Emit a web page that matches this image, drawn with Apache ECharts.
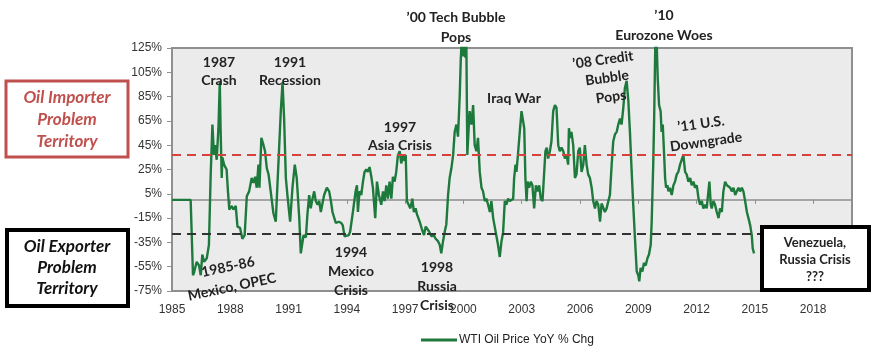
<!DOCTYPE html>
<html>
<head>
<meta charset="utf-8">
<script src="https://cdn.jsdelivr.net/npm/echarts@6/dist/echarts.min.js"></script>
<style>
html,body{margin:0;padding:0;background:#fff;}
#chart{width:880px;height:348px;}
</style>
</head>
<body>
<div id="chart"></div>
<script>
// Time (decimal year) and WTI oil price year-over-year % change
const years = [
1985.00,1985.96,1986.08,1986.13,1986.27,1986.39,1986.48,1986.56,1986.65,1986.79,1986.90,1986.99,
1987.08,1987.16,1987.22,1987.30,1987.39,1987.46,1987.50,1987.56,1987.59,1987.68,1987.81,1987.88,1987.95,
1988.07,1988.16,1988.28,1988.37,1988.50,1988.62,1988.74,1988.85,1988.97,
1989.10,1989.19,1989.28,1989.36,1989.45,1989.50,1989.60,1989.71,1989.79,1989.88,1989.97,
1990.08,1990.22,1990.34,1990.43,1990.52,1990.60,1990.69,1990.77,1990.86,1990.94,
1991.08,1991.20,1991.32,1991.42,1991.55,1991.63,1991.77,1991.89,1991.97,
1992.06,1992.14,1992.23,1992.32,1992.40,1992.49,1992.58,1992.66,1992.83,1992.97,
1993.09,1993.18,1993.26,1993.43,1993.59,1993.71,1993.79,1993.88,1993.97,
1994.10,1994.17,1994.31,1994.45,1994.52,1994.57,1994.65,1994.74,1994.83,1994.91,
1995.00,1995.08,1995.17,1995.26,1995.34,1995.46,1995.55,1995.65,1995.77,1995.86,1995.94,
1996.03,1996.11,1996.20,1996.29,1996.37,1996.46,1996.54,1996.63,1996.72,1996.80,1996.89,1996.97,
1997.03,1997.09,1997.18,1997.27,1997.37,1997.45,1997.54,1997.61,1997.75,1997.88,1997.97,
1998.06,1998.14,1998.23,1998.35,1998.47,1998.57,1998.69,1998.78,1998.86,1998.95,
1999.04,1999.12,1999.21,1999.29,1999.38,1999.47,1999.55,1999.64,1999.72,1999.81,1999.86,1999.91,1999.98,
2000.03,2000.10,2000.15,2000.20,2000.27,2000.32,2000.41,2000.50,2000.58,2000.67,2000.75,2000.84,2000.93,
2001.01,2001.10,2001.18,2001.27,2001.36,2001.44,2001.53,2001.61,2001.70,2001.78,2001.87,2001.96,
2002.04,2002.13,2002.21,2002.30,2002.39,2002.47,2002.56,2002.61,2002.68,2002.73,2002.82,2002.90,2002.99,
2003.07,2003.13,2003.19,2003.25,2003.30,2003.38,2003.47,2003.55,2003.64,2003.73,2003.81,2003.90,2003.98,
2004.07,2004.16,2004.22,2004.29,2004.36,2004.45,2004.53,2004.62,2004.71,2004.79,2004.88,2004.96,
2005.05,2005.14,2005.22,2005.31,2005.39,2005.43,2005.50,2005.56,2005.65,2005.74,2005.82,2005.91,2005.99,
2006.08,2006.17,2006.25,2006.34,2006.42,2006.51,2006.60,2006.68,2006.77,2006.85,2006.94,
2007.03,2007.11,2007.20,2007.28,2007.37,2007.46,2007.54,2007.63,2007.71,2007.80,2007.89,2007.97,
2008.06,2008.14,2008.23,2008.31,2008.40,2008.49,2008.57,2008.66,2008.74,2008.83,2008.92,
2009.00,2009.05,2009.12,2009.21,2009.29,2009.38,2009.47,2009.55,2009.64,2009.69,2009.77,2009.82,2009.88,2009.95,
2010.00,2010.07,2010.15,2010.20,2010.26,2010.33,2010.38,2010.43,2010.50,2010.55,2010.63,2010.72,2010.81,2010.89,2010.98,
2011.06,2011.15,2011.24,2011.32,2011.41,2011.49,2011.58,2011.67,2011.75,2011.84,2011.92,
2012.01,2012.10,2012.18,2012.27,2012.35,2012.44,2012.52,2012.61,2012.66,2012.73,2012.78,2012.87,2012.95,
2013.04,2013.13,2013.21,2013.30,2013.38,2013.47,2013.56,2013.64,2013.73,2013.81,2013.90,2013.99,
2014.07,2014.16,2014.24,2014.33,2014.41,2014.50,2014.59,2014.67,2014.76,2014.84,2014.89,2014.96
];
const wtiYoY = [
0,0,-62,-60,-51,-54,-62,-45,-51,-48,-37,20,
62,37,45,33,59,97,59,18,35,29,25,7,-8,
-5,-8,-5,-22,-23,-32,-29,3,7,
18,14,19,10,29,10,51,45,40,26,21,
7,-11,-18,-18,45,73,97,67,18,4,
-18,10,29,18,-15,-44,-29,-31,-12,
4,-7,1,7,-1,-4,-1,-10,4,10,
7,-1,-10,-19,-18,-19,-21,-30,-29,
-29,-26,-10,7,12,-10,7,4,15,23,
25,23,27,19,10,-15,15,4,-4,7,-1,
12,1,15,1,19,15,23,37,40,30,37,32,
37,-1,-4,-7,1,-10,-7,-12,-18,-25,-29,
-22,-21,-26,-30,-29,-32,-34,-37,-44,-34,
-26,-20,4,18,26,37,56,62,52,86,114,132,118,
136,117,130,37,59,73,62,78,45,40,51,23,10,
7,-1,1,-4,-10,-1,-15,-22,-30,-37,-47,-34,
-27,-1,-4,1,-1,0,1,18,29,23,40,56,73,
73,59,18,-1,15,10,15,12,-7,12,7,12,1,
-1,-1,40,43,34,40,48,73,78,76,45,40,
43,40,34,37,29,59,51,56,45,18,21,40,43,
23,29,45,29,21,18,10,-1,-7,-1,-4,
-18,-3,-4,-10,-7,-1,4,29,48,54,56,62,
67,62,76,92,98,81,56,23,-4,-32,-59,
-62,-67,-56,-59,-52,-54,-48,-45,-37,-18,30,70,132,128,
100,78,73,56,62,37,18,10,12,7,10,4,12,15,21,
23,29,29,37,23,21,15,18,12,15,10,
12,1,-4,-1,-7,-4,-7,7,15,-4,-7,-1,-4,
-10,-15,-7,-10,7,15,12,12,10,7,10,4,
7,10,7,10,7,-1,-10,-15,-21,-29,-40,-44
];
const seriesName = 'WTI Oil Price YoY % Chg';
const yTicks = [-75,-55,-35,-15,5,25,45,65,85,105,125];
const xTicks = [1985,1988,1991,1994,1997,2000,2003,2006,2009,2012,2015,2018];
const importerLevel = 37;
const exporterLevel = -28;

const narrow = '"Liberation Sans Narrow","Arial Narrow","Liberation Sans",Arial,sans-serif';
const annoFont = 'Lato,"Open Sans",sans-serif';

const chart = echarts.init(document.getElementById('chart'), null, {renderer: 'canvas'});

function note(x, y, text, deg, lh) {
  return {
    type: 'text', x: x, y: y, rotation: (deg || 0) * Math.PI / 180, z: 100,
    style: {
      text: text, fill: '#222', align: 'center', verticalAlign: 'middle',
      font: 'bold 14px ' + annoFont, lineHeight: lh || 18
    }
  };
}

const option = {
  animation: false,
  backgroundColor: '#ffffff',
  grid: {
    left: 172, top: 48, right: 28, bottom: 57,
    show: true, backgroundColor: '#ebebeb', borderColor: '#8f8f8f', borderWidth: 2
  },
  legend: {
    data: [seriesName],
    left: 416, top: 329,
    icon: 'rect', itemWidth: 36, itemHeight: 3, itemGap: 4,
    textStyle: { fontFamily: narrow, fontSize: 12, color: '#222', padding: [0,0,0,-3] }
  },
  xAxis: [
    {
      type: 'value', min: 1985, max: 2020,
      axisLine: { show: true, onZero: true, lineStyle: { color: '#8f8f8f', width: 1.5 } },
      axisTick: { show: true, length: 4, customValues: xTicks, lineStyle: { color: '#8f8f8f', width: 1 } },
      axisLabel: { show: false },
      splitLine: { show: false }
    },
    {
      type: 'value', min: 1985, max: 2020, position: 'bottom',
      axisLine: { show: false, onZero: false },
      axisTick: { show: false },
      axisLabel: {
        show: true, customValues: xTicks, margin: 13,
        fontFamily: narrow, fontSize: 12, color: '#333',
        formatter: v => String(v)
      },
      splitLine: { show: false }
    }
  ],
  yAxis: {
    type: 'value', min: -75, max: 125,
    axisLine: { show: true, onZero: false, lineStyle: { color: '#8f8f8f', width: 1 } },
    axisTick: { show: true, length: 5, customValues: yTicks, lineStyle: { color: '#8f8f8f' } },
    axisLabel: {
      show: true, customValues: yTicks, margin: 10,
      fontFamily: narrow, fontSize: 12, color: '#333',
      formatter: v => v + '%'
    },
    splitLine: { show: false }
  },
  series: [{
    name: seriesName,
    type: 'line',
    xAxisIndex: 0,
    showSymbol: false,
    clip: true,
    color: '#1e7a3c',
    lineStyle: { color: '#1e7a3c', width: 2.4 },
    data: years.map((y, i) => [y, wtiYoY[i]]),
    markLine: {
      silent: true, symbol: ['none', 'none'], animation: false,
      label: { show: false },
      data: [
        { yAxis: importerLevel, lineStyle: { color: '#d8423c', type: [9, 6], width: 2 } },
        { yAxis: exporterLevel, lineStyle: { color: '#333333', type: [9, 6], width: 2 } }
      ]
    }
  }],
  graphic: [
    // left boxes
    { type: 'rect', z: 100, shape: { x: 6, y: 81, width: 122, height: 76 },
      style: { fill: '#fff', stroke: '#c0504d', lineWidth: 3 } },
    { type: 'text', z: 101, x: 67, y: 120,
      style: { text: 'Oil Importer\nProblem\nTerritory', fill: '#c0504d', align: 'center', verticalAlign: 'middle',
               font: 'italic bold 17px ' + annoFont, lineHeight: 22 } },
    { type: 'rect', z: 100, shape: { x: 7, y: 230, width: 121, height: 76 },
      style: { fill: '#fff', stroke: '#000', lineWidth: 4 } },
    { type: 'text', z: 101, x: 67, y: 268,
      style: { text: 'Oil Exporter\nProblem\nTerritory', fill: '#111', align: 'center', verticalAlign: 'middle',
               font: 'italic bold 17px ' + annoFont, lineHeight: 21 } },
    // right box
    { type: 'rect', z: 100, shape: { x: 762, y: 227, width: 107, height: 63 },
      style: { fill: '#fff', stroke: '#000', lineWidth: 4 } },
    { type: 'text', z: 101, x: 815, y: 260,
      style: { text: 'Venezuela,\nRussia Crisis\n???', fill: '#222', align: 'center', verticalAlign: 'middle',
               font: 'bold 13px ' + annoFont, lineHeight: 17 } },
    // event annotations
    note(219, 71, '1987\nCrash'),
    note(290, 71, '1991\nRecession'),
    note(228, 267, '1985-86', 12),
    note(232, 287, 'Mexico, OPEC', 12),
    note(351, 271, '1994\nMexico\nCrisis', 0, 19),
    note(400, 136, '1997\nAsia Crisis'),
    note(437, 286, '1998\nRussia\nCrisis', 0, 19),
    note(456, 27, '\u201900 Tech Bubble\nPops', 0, 20),
    note(514, 98, 'Iraq War'),
    note(603, 60, '\u201908 Credit', 8),
    note(607, 78, 'Bubble', 8),
    note(611, 97, 'Pops', 8),
    note(664, 25, '\u201910\nEurozone Woes', 0, 20),
    note(701, 124, '\u201911 U.S.', 8),
    note(706, 142, 'Downgrade', 8)
  ]
};
chart.setOption(option);
</script>
</body>
</html>
